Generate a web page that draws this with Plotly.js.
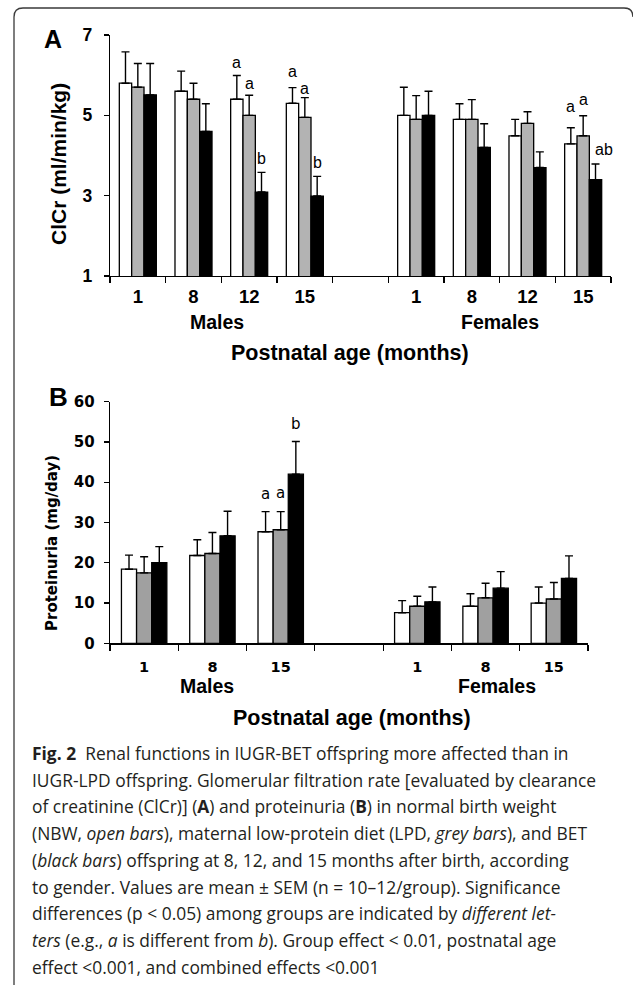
<!DOCTYPE html>
<html>
<head>
<meta charset="utf-8">
<script src="https://cdn.plot.ly/plotly-3.0.1.min.js"></script>
<style>
html,body{margin:0;padding:0;background:#fff;}
#chart{width:633px;height:985px;}
</style>
</head>
<body>
<div id="chart"></div>
<script>
// ---------- DATA ----------
// Panel A: ClCr (ml/min/kg); slots: Males 1,8,12,15 | gap | Females 1,8,12,15
const ageLabelsA = ['1', '8', '12', '15', '', '1', '8', '12', '15'];
const nbwA    = [5.80, 5.60, 5.40, 5.30, null, 5.00, 4.90, 4.49, 4.29];
const nbwAErr = [0.78, 0.50, 0.59, 0.39, null, 0.70, 0.39, 0.41, 0.40];
const lpdA    = [5.70, 5.40, 5.00, 4.95, null, 4.90, 4.90, 4.80, 4.49];
const lpdAErr = [0.59, 0.40, 0.50, 0.49, null, 0.59, 0.49, 0.29, 0.50];
const betA    = [5.51, 4.60, 3.09, 2.99, null, 5.00, 4.20, 3.70, 3.40];
const betAErr = [0.78, 0.69, 0.49, 0.49, null, 0.60, 0.59, 0.39, 0.39];
const nbwALetters = ['', '', 'a', 'a', '', '', '', '', 'a'];
const lpdALetters = ['', '', 'a', 'a', '', '', '', '', 'a'];
const betALetters = ['', '', 'b', 'b', '', '', '', '', 'ab'];
const yTicksA = [1, 3, 5, 7];

// Panel B: Proteinuria (mg/day); slots: Males 1,8,15 | gap | Females 1,8,15
const ageLabelsB = ['1', '8', '15', '', '1', '8', '15'];
const nbwB    = [18.4, 21.8, 27.7, null, 7.6, 9.2, 10.0];
const nbwBErr = [3.5, 3.9, 5.0, null, 3.0, 3.1, 4.0];
const lpdB    = [17.5, 22.3, 28.2, null, 9.2, 11.3, 11.0];
const lpdBErr = [4.0, 5.2, 4.5, null, 2.5, 3.6, 4.1];
const betB    = [20.0, 26.7, 42.0, null, 10.3, 13.7, 16.1];
const betBErr = [4.0, 6.1, 8.1, null, 3.7, 4.1, 5.6];
const nbwBLetters = ['', '', 'a', '', '', '', ''];
const lpdBLetters = ['', '', 'a', '', '', '', ''];
const betBLetters = ['', '', 'b', '', '', '', ''];
const yTicksB = [0, 10, 20, 30, 40, 50, 60];

const sexLabels = ['Males', 'Females'];
const xTitle = 'Postnatal age (months)';
const yTitleA = 'ClCr (ml/min/kg)';
const yTitleB = 'Proteinuria (mg/day)';
const captionLines = [
  '<b>Fig. 2</b>  Renal functions in IUGR-BET offspring more affected than in',
  'IUGR-LPD offspring. Glomerular filtration rate [evaluated by clearance',
  'of creatinine (ClCr)] (<b>A</b>) and proteinuria (<b>B</b>) in normal birth weight',
  '(NBW, <i>open bars</i>), maternal low-protein diet (LPD, <i>grey bars</i>), and BET',
  '(<i>black bars</i>) offspring at 8, 12, and 15 months after birth, according',
  'to gender. Values are mean ± SEM (n = 10–12/group). Significance',
  'differences (p &lt; 0.05) among groups are indicated by <i>different let-</i>',
  '<i>ters</i> (e.g., <i>a</i> is different from <i>b</i>). Group effect &lt; 0.01, postnatal age',
  'effect &lt;0.001, and combined effects &lt;0.001'
];

// ---------- LAYOUT HELPERS ----------
const W = 633, H = 985;
const px = x => x / W;
const py = y => 1 - y / H;
const BARGAP = 0.335;
const barW = (1 - BARGAP) / 3;
const offsets = [-barW, 0, barW];
const ARIAL = 'Liberation Sans, Arial, sans-serif';
const VERD = 'DejaVu Sans, Verdana, sans-serif';

function idx(arr) { return arr.map((_, i) => i); }
function zeros(arr) { return arr.map(() => 0); }
function boundaries(n) { const b = []; for (let i = 0; i <= n; i++) b.push(i - 0.5); return b; }

const fillsA = ['#ffffff', '#b3b3b3', '#000000'];
const fillsB = ['#ffffff', '#a0a0a0', '#000000'];

function barTrace(vals, errs, fill, xa, ya) {
  return {
    type: 'bar', x: idx(vals), y: vals, xaxis: xa, yaxis: ya,
    marker: {color: fill, line: {color: '#000', width: 1.3}},
    error_y: {type: 'data', symmetric: false, array: errs, arrayminus: zeros(errs),
              color: '#000', thickness: 1.4, width: 4},
    hoverinfo: 'skip', showlegend: false
  };
}

const traces = [
  barTrace(nbwA, nbwAErr, fillsA[0], 'x', 'y'),
  barTrace(lpdA, lpdAErr, fillsA[1], 'x', 'y'),
  barTrace(betA, betAErr, fillsA[2], 'x', 'y'),
  barTrace(nbwB, nbwBErr, fillsB[0], 'x2', 'y2'),
  barTrace(lpdB, lpdBErr, fillsB[1], 'x2', 'y2'),
  barTrace(betB, betBErr, fillsB[2], 'x2', 'y2'),
  // invisible carriers for the label axes
  {type: 'scatter', x: idx(ageLabelsA), y: nbwA, xaxis: 'x3', yaxis: 'y', mode: 'none',
   hoverinfo: 'skip', showlegend: false},
  {type: 'scatter', x: idx(ageLabelsB), y: nbwB, xaxis: 'x4', yaxis: 'y2', mode: 'none',
   hoverinfo: 'skip', showlegend: false}
];

const annotations = [];
function letterAnns(letters, vals, errs, k, xref, yref, font, shift, extra) {
  letters.forEach((t, i) => {
    if (!t) return;
    const e = (extra && extra[t + i]) || {dx: 0, dy: 0};
    annotations.push({
      xref: xref, yref: yref, x: i + offsets[k], y: vals[i] + errs[i],
      text: t, showarrow: false, xanchor: 'center', yanchor: 'middle',
      yshift: shift + e.dy, xshift: e.dx, font: font
    });
  });
}
const letFontA = {family: ARIAL, size: 16, color: '#000'};
const letFontB = {family: VERD, size: 15, color: '#000'};
letterAnns(nbwALetters, nbwA, nbwAErr, 0, 'x', 'y', letFontA, 13, {'a8': {dx: 0, dy: 8}, 'a3': {dx: 0, dy: 3}});
letterAnns(lpdALetters, lpdA, lpdAErr, 1, 'x', 'y', letFontA, 12, {'a8': {dx: 0, dy: 4}, 'a3': {dx: 0, dy: -3}});
letterAnns(betALetters, betA, betAErr, 2, 'x', 'y', letFontA, 14, {'ab8': {dx: 8, dy: 0}});
letterAnns(nbwBLetters, nbwB, nbwBErr, 0, 'x2', 'y2', letFontB, 18);
letterAnns(lpdBLetters, lpdB, lpdBErr, 1, 'x2', 'y2', letFontB, 19);
letterAnns(betBLetters, betB, betBErr, 2, 'x2', 'y2', letFontB, 18);

function txt(x, y, text, font, extra) {
  annotations.push(Object.assign({xref: 'paper', yref: 'paper', x: px(x), y: py(y), text: text,
    showarrow: false, xanchor: 'center', yanchor: 'middle', font: font}, extra || {}));
}
// panel letters
txt(53, 39, 'A', {family: ARIAL, size: 25, color: '#000', weight: 'bold'});
txt(58, 397, 'B', {family: ARIAL, size: 26, color: '#000', weight: 'bold'});
// y titles
txt(58, 164, yTitleA, {family: ARIAL, size: 21, color: '#000', weight: 'bold'}, {textangle: -90});
txt(52, 543, yTitleB, {family: VERD, size: 15, color: '#000', weight: 'bold'}, {textangle: -90});
// sex labels + x titles
txt(217, 322, sexLabels[0], {family: ARIAL, size: 19.5, color: '#000', weight: 'bold'});
txt(500, 322, sexLabels[1], {family: ARIAL, size: 19.5, color: '#000', weight: 'bold'});
txt(350, 353, xTitle, {family: ARIAL, size: 21.5, color: '#000', weight: 'bold'});
txt(207, 686, sexLabels[0], {family: ARIAL, size: 19.5, color: '#000', weight: 'bold'});
txt(497, 686, sexLabels[1], {family: ARIAL, size: 19.5, color: '#000', weight: 'bold'});
txt(352, 718, xTitle, {family: ARIAL, size: 21.5, color: '#000', weight: 'bold'});
// caption
captionLines.forEach((line, i) => {
  txt(30, 753 + i * 26.7, line, {family: 'Open Sans, Noto Sans, sans-serif', size: 17.4, color: '#231f20'},
      {xanchor: 'left'});
});

const axBase = {showgrid: false, zeroline: false, showline: true, linecolor: '#000', linewidth: 1.3,
                fixedrange: true};

const layout = {
  width: W, height: H, margin: {l: 0, r: 0, t: 0, b: 0},
  paper_bgcolor: '#fff', plot_bgcolor: 'rgba(0,0,0,0)',
  barmode: 'group', bargap: BARGAP, bargroupgap: 0, showlegend: false,
  // panel A: boundary ticks
  xaxis: Object.assign({}, axBase, {
    domain: [px(110), px(611)], anchor: 'y', range: [-0.5, ageLabelsA.length - 0.5],
    tickmode: 'array', tickvals: boundaries(ageLabelsA.length), showticklabels: false,
    ticks: 'outside', ticklen: 6, tickwidth: 1.2, tickcolor: '#000'
  }),
  // panel A: labels at slot centres
  xaxis3: {
    overlaying: 'x', anchor: 'y', side: 'bottom', range: [-0.5, ageLabelsA.length - 0.5],
    showline: false, showgrid: false, zeroline: false, ticks: '', fixedrange: true,
    tickmode: 'array', tickvals: idx(ageLabelsA), ticktext: ageLabelsA,
    ticklabelstandoff: 7,
    tickfont: {family: ARIAL, size: 18.5, color: '#000', weight: 'bold'}
  },
  yaxis: Object.assign({}, axBase, {
    domain: [py(276), py(35)], anchor: 'x', range: [1, 7],
    tickmode: 'array', tickvals: yTicksA, ticks: 'outside', ticklen: 5, tickwidth: 1.2, tickcolor: '#000',
    ticklabelstandoff: 8,
    tickfont: {family: ARIAL, size: 17.5, color: '#000', weight: 'bold'}
  }),
  xaxis2: Object.assign({}, axBase, {
    domain: [px(110), px(588)], anchor: 'y2', range: [-0.5, ageLabelsB.length - 0.5],
    tickmode: 'array', tickvals: boundaries(ageLabelsB.length), showticklabels: false,
    ticks: 'outside', ticklen: 6, tickwidth: 1.2, tickcolor: '#000'
  }),
  xaxis4: {
    overlaying: 'x2', anchor: 'y2', side: 'bottom', range: [-0.5, ageLabelsB.length - 0.5],
    showline: false, showgrid: false, zeroline: false, ticks: '', fixedrange: true,
    tickmode: 'array', tickvals: idx(ageLabelsB), ticktext: ageLabelsB,
    ticklabelstandoff: 13,
    tickfont: {family: VERD, size: 14.5, color: '#000', weight: 'bold'}
  },
  yaxis2: Object.assign({}, axBase, {
    domain: [py(643.3), py(401.7)], anchor: 'x2', range: [0, 60],
    tickmode: 'array', tickvals: yTicksB, ticks: 'outside', ticklen: 5, tickwidth: 1.2, tickcolor: '#000',
    ticklabelstandoff: 6,
    tickfont: {family: VERD, size: 15, color: '#000', weight: 'bold'}
  }),
  shapes: [{
    type: 'path', xref: 'paper', yref: 'paper',
    path: `M ${px(14)} ${py(990)} L ${px(14)} ${py(17)} Q ${px(14)} ${py(8)} ${px(23)} ${py(8)} L ${px(624)} ${py(8)} Q ${px(633)} ${py(8)} ${px(633)} ${py(17)}`,
    line: {color: '#3a3a3a', width: 1.3}
  }],
  annotations: annotations
};

Plotly.newPlot('chart', traces, layout, {staticPlot: true, displayModeBar: false});
</script>
</body>
</html>
